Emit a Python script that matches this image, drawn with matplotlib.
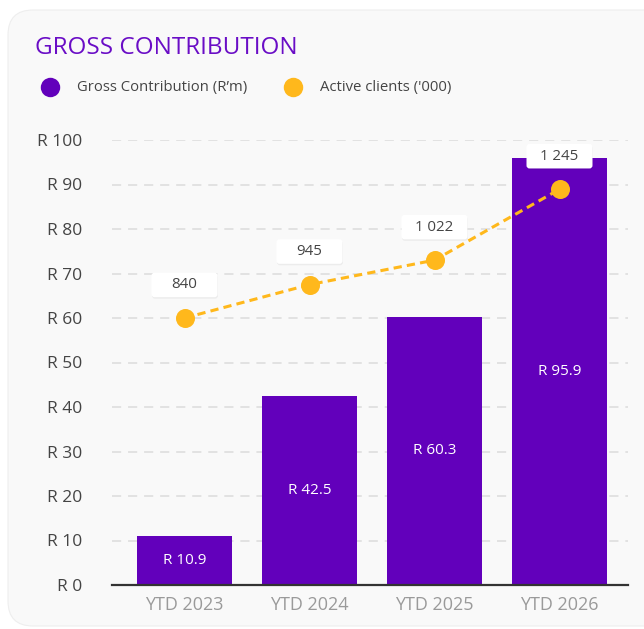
import matplotlib
matplotlib.use("Agg")
import matplotlib.pyplot as plt
import matplotlib.transforms as mtransforms
from matplotlib.patches import FancyBboxPatch
from matplotlib.lines import Line2D

# data
periods = ["YTD 2023", "YTD 2024", "YTD 2025", "YTD 2026"]
gross_contribution = [10.9, 42.5, 60.3, 95.9]      # R'm
active_clients = [840, 945, 1022, 1245]            # '000
y_ticks = [0, 10, 20, 30, 40, 50, 60, 70, 80, 90, 100]

PURPLE = "#6200bb"
TITLE_PURPLE = "#6a0dc6"
ORANGE = "#ffb81c"
CARD = "#f9f9f9"
TEXT = "#444444"

plt.rcParams["font.family"] = ["Open Sans", "DejaVu Sans"]

W, H = 644, 629
fig = plt.figure(figsize=(W / 100, H / 100), dpi=100)
fig.patch.set_facecolor("white")


def fx(px):
    return px / W


def fy(py):
    return 1 - py / H


# card background
card = FancyBboxPatch((0.08, 0.03), 6.35 + 0.25, 6.16,
                      boxstyle="round,pad=0,rounding_size=0.25",
                      transform=fig.dpi_scale_trans,
                      facecolor=CARD, edgecolor="#eeeeee", linewidth=0.8, zorder=-5)
fig.patches.append(card)

# title and legend
fig.text(fx(35), fy(48), "GROSS CONTRIBUTION", color=TITLE_PURPLE,
         fontsize=17.5, va="center", ha="left")
for cx, tx, col, lab in [(49.5, 77, PURPLE, "Gross Contribution (R\u2019m)"),
                         (292.5, 319.5, ORANGE, "Active clients ('000)")]:
    fig.add_artist(Line2D([fx(cx)], [fy(87)], marker="o", markersize=14,
                          color=col, markeredgewidth=0, transform=fig.transFigure))
    fig.text(fx(tx), fy(87), lab, color=TEXT, fontsize=10.7, va="center", ha="left")

# main axes
ax = fig.add_axes([fx(112), fy(585), fx(628) - fx(112), fy(140) - fy(585)])
ax.patch.set_alpha(0)
x = list(range(len(periods)))
bars = ax.bar(x, gross_contribution, width=0.765, color=PURPLE, zorder=2)
for xi, v in zip(x, gross_contribution):
    ax.text(xi, v / 2, f"R {v}", color="white", fontsize=11,
            ha="center", va="center", zorder=3)

ax.set_xlim(-0.58, 3.548)
ax.set_ylim(0, 100)
ax.set_yticks(y_ticks)
ax.set_yticklabels([f"R {t}" for t in y_ticks])
ax.set_xticks(x)
ax.set_xticklabels(periods)
ax.tick_params(axis="y", length=0, pad=21.5, labelsize=12.5, labelcolor=TEXT)
ax.tick_params(axis="x", length=0, pad=8, labelsize=13, labelcolor="#9a9a9a")
for s in ["top", "right", "left"]:
    ax.spines[s].set_visible(False)
ax.spines["bottom"].set_color("#333333")
ax.spines["bottom"].set_linewidth(1.6)
ax.spines["bottom"].set_zorder(4)
ax.yaxis.grid(True, color="#dcdcdc", linewidth=1.1, dashes=(6, 4.5))
ax.set_axisbelow(True)

# secondary axis for clients
ax2 = ax.twinx()
ax2.set_ylim(0, 1400)
ax2.axis("off")
ax2.plot(x, active_clients, color=ORANGE, linewidth=2.2, dashes=(2.7, 1.7),
         marker="o", markersize=13.7, markeredgewidth=0, zorder=5)

for xi, v in zip(x, active_clients):
    trans = fig.dpi_scale_trans + mtransforms.ScaledTranslation(xi, v, ax2.transData)
    shadow = FancyBboxPatch((-0.33 + 0.005, 0.33 - 0.122 - 0.015), 0.66, 0.245,
                            boxstyle="round,pad=0,rounding_size=0.03",
                            transform=trans, facecolor="#000000", alpha=0.05,
                            edgecolor="none", zorder=6, clip_on=False)
    box = FancyBboxPatch((-0.33, 0.33 - 0.122), 0.66, 0.245,
                         boxstyle="round,pad=0,rounding_size=0.03",
                         transform=trans, facecolor="white",
                         edgecolor="none", zorder=7, clip_on=False)
    ax2.add_patch(shadow)
    ax2.add_patch(box)
    ax2.annotate(f"{v:,}".replace(",", " "), xy=(xi, v), xytext=(0, 0.33 * 72),
                 textcoords="offset points", ha="center", va="center",
                 fontsize=10.8, color=TEXT, zorder=8, annotation_clip=False)

fig.savefig("out.png", dpi=100, facecolor="white")
